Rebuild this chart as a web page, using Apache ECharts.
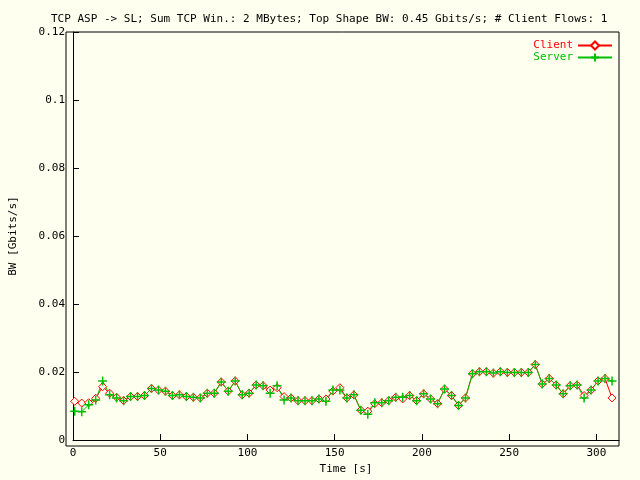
<!DOCTYPE html>
<html><head><meta charset="utf-8">
<script src="https://cdn.jsdelivr.net/npm/echarts@6/dist/echarts.min.js"></script>
<style>html,body{margin:0;background:#fffff0}#c{width:640px;height:480px}</style>
</head><body><div id="c"></div>
<script>
const times = Array.from({length:78},(_,i)=>1+4*i);
const client = [0.0114,0.0109,0.011,0.0123,0.0157,0.0138,0.0126,0.0116,0.0128,0.0128,0.0131,0.0152,0.0147,0.0144,0.0131,0.0133,0.0128,0.0126,0.0124,0.0138,0.0138,0.0171,0.0144,0.0174,0.0133,0.0138,0.0162,0.016,0.0147,0.0154,0.0128,0.0124,0.0116,0.0116,0.0116,0.0121,0.0121,0.0144,0.0154,0.0124,0.0133,0.0088,0.0085,0.0107,0.011,0.0116,0.0126,0.0121,0.0131,0.0116,0.0136,0.0121,0.0107,0.015,0.0131,0.0102,0.0124,0.0195,0.0201,0.0201,0.0197,0.0201,0.0199,0.0199,0.0199,0.0199,0.0222,0.0165,0.0181,0.0162,0.0136,0.016,0.0162,0.0131,0.0147,0.0174,0.0181,0.0124];
const server = [0.0085,0.0083,0.0104,0.0118,0.0174,0.0133,0.0124,0.0116,0.0128,0.0128,0.0131,0.0152,0.0147,0.0144,0.0131,0.0133,0.0128,0.0126,0.0124,0.0138,0.0138,0.0171,0.0144,0.0174,0.0133,0.0138,0.0162,0.016,0.0138,0.016,0.0118,0.0124,0.0116,0.0116,0.0116,0.0121,0.0114,0.0147,0.0147,0.0124,0.0133,0.0088,0.0076,0.011,0.011,0.0116,0.0126,0.0126,0.0131,0.0116,0.0136,0.0121,0.0107,0.015,0.0131,0.0102,0.0124,0.0195,0.0201,0.0201,0.0197,0.0201,0.0199,0.0199,0.0199,0.0199,0.0222,0.0165,0.0181,0.0162,0.0136,0.016,0.0162,0.0124,0.0147,0.0174,0.0181,0.0174];
const plus = 'path://M5,0L5,10M0,5L10,5';
const font = {fontFamily:'DejaVu Sans Mono',fontSize:11,color:'#000'};
const ch = echarts.init(document.getElementById('c'));
ch.setOption({
  backgroundColor:'#fffff0', animation:false,
  title:{text:'TCP ASP -> SL; Sum TCP Win.: 2 MBytes; Top Shape BW: 0.45 Gbits/s; # Client Flows: 1',left:46,top:9,textStyle:{...font,fontWeight:'normal'}},
  legend:{right:22,top:35,orient:'vertical',itemGap:0,itemWidth:34,itemHeight:10,align:'right',
    textStyle:{fontFamily:'DejaVu Sans Mono',fontSize:11},
    data:[{name:'Client',textStyle:{color:'#ff0000'}},{name:'Server',textStyle:{color:'#00c000'}}]},
  grid:{left:66,right:21,top:32,bottom:34},
  xAxis:{type:'value',min:0,max:313,interval:50,name:'Time [s]',nameLocation:'middle',nameGap:22,nameTextStyle:font,
    axisLine:{lineStyle:{color:'#000'}},axisTick:{inside:true,length:6,lineStyle:{color:'#000'}},axisLabel:{...font,showMaxLabel:false},splitLine:{show:false}},
  yAxis:{type:'value',min:0,max:0.12,interval:0.02,name:'BW [Gbits/s]',nameLocation:'middle',nameGap:54,nameTextStyle:font,
    axisLine:{lineStyle:{color:'#000'}},axisTick:{inside:true,length:6,lineStyle:{color:'#000'}},axisLabel:{...font,formatter:v=>v===0?'0':String(+v.toFixed(2))},splitLine:{show:false}},
  series:[
    {name:'Client',type:'line',data:times.map((t,i)=>[t,client[i]]),color:'#ff0000',symbol:'diamond',symbolSize:8,
      itemStyle:{color:'#fffff0',borderColor:'#ff0000',borderWidth:1},lineStyle:{color:'#ff0000',width:1}},
    {name:'Server',type:'line',data:times.map((t,i)=>[t,server[i]]),color:'#00c000',symbol:plus,symbolSize:9,
      itemStyle:{color:'none',borderColor:'#00c000',borderWidth:1.5},lineStyle:{color:'#00c000',width:1}}
  ],
  graphic:[{type:'rect',shape:{x:66,y:32,width:553,height:414},style:{fill:'none',stroke:'#000',lineWidth:1},silent:true,z:10}]
});
</script></body></html>
